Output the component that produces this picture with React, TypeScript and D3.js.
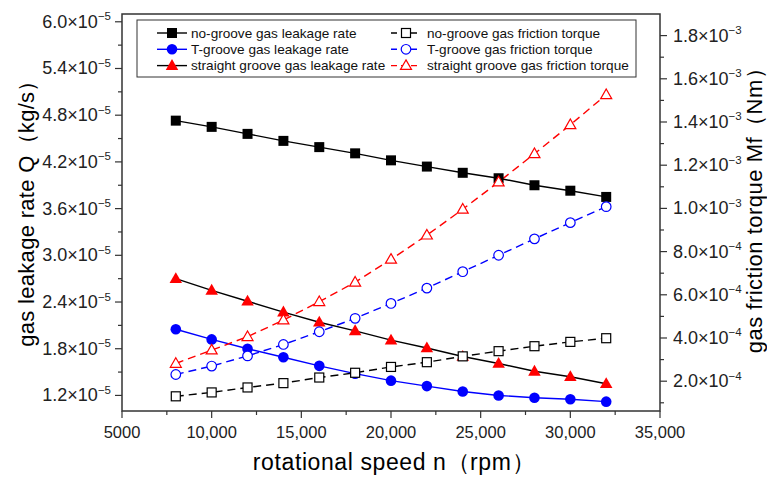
import React, { useEffect, useRef } from "react";
import * as d3 from "d3";

const speeds = [8000, 10000, 12000, 14000, 16000, 18000, 20000, 22000, 24000, 26000, 28000, 30000, 32000];

// leakage rate Q (kg/s), left axis
const noGrooveLeak = [4.73e-5, 4.65e-5, 4.56e-5, 4.47e-5, 4.39e-5, 4.31e-5, 4.22e-5, 4.14e-5, 4.06e-5, 3.99e-5, 3.9e-5, 3.83e-5, 3.75e-5];
const tGrooveLeak = [2.05e-5, 1.92e-5, 1.8e-5, 1.69e-5, 1.58e-5, 1.48e-5, 1.39e-5, 1.32e-5, 1.25e-5, 1.2e-5, 1.17e-5, 1.15e-5, 1.12e-5];
const straightLeak = [2.7e-5, 2.55e-5, 2.41e-5, 2.27e-5, 2.14e-5, 2.03e-5, 1.91e-5, 1.81e-5, 1.7e-5, 1.61e-5, 1.51e-5, 1.44e-5, 1.35e-5];

// friction torque Mf (Nm), right axis
const noGrooveTorque = [1.3e-4, 1.48e-4, 1.71e-4, 1.91e-4, 2.17e-4, 2.39e-4, 2.66e-4, 2.88e-4, 3.15e-4, 3.39e-4, 3.62e-4, 3.82e-4, 3.99e-4];
const tGrooveTorque = [2.31e-4, 2.7e-4, 3.17e-4, 3.7e-4, 4.29e-4, 4.91e-4, 5.6e-4, 6.31e-4, 7.07e-4, 7.83e-4, 8.59e-4, 9.34e-4, 1.008e-3];
const straightTorque = [2.82e-4, 3.44e-4, 4.06e-4, 4.83e-4, 5.68e-4, 6.58e-4, 7.64e-4, 8.76e-4, 9.96e-4, 1.122e-3, 1.253e-3, 1.387e-3, 1.526e-3];

const xTicks = [5000, 10000, 15000, 20000, 25000, 30000, 35000];
const leftTicks = [1.2e-5, 1.8e-5, 2.4e-5, 3.0e-5, 3.6e-5, 4.2e-5, 4.8e-5, 5.4e-5, 6.0e-5];
const rightTicks = [2e-4, 4e-4, 6e-4, 8e-4, 1.0e-3, 1.2e-3, 1.4e-3, 1.6e-3, 1.8e-3];

const series = [
  { name: "no-groove gas leakage rate", values: noGrooveLeak, axis: "left", shape: "square", color: "#000", line: "#000", open: false, dash: null },
  { name: "T-groove gas leakage rate", values: tGrooveLeak, axis: "left", shape: "circle", color: "#0000ff", line: "#0000ff", open: false, dash: null },
  { name: "straight groove gas leakage rate", values: straightLeak, axis: "left", shape: "triangle", color: "#ff0000", line: "#000", open: false, dash: null },
  { name: "no-groove gas friction torque", values: noGrooveTorque, axis: "right", shape: "square", color: "#000", line: "#000", open: true, dash: "8,5" },
  { name: "T-groove gas friction torque", values: tGrooveTorque, axis: "right", shape: "circle", color: "#0000ff", line: "#0000ff", open: true, dash: "8,5" },
  { name: "straight groove gas friction torque", values: straightTorque, axis: "right", shape: "triangle", color: "#ff0000", line: "#ff0000", open: true, dash: "8,5" }
];

const W = 767;
const H = 477;
const m = { left: 122, right: 660, top: 14, bottom: 411 };
const FONT = "'Liberation Sans', Arial, sans-serif";

function drawMarker(g, shape, x, y, color, open) {
  const fill = open ? "#fff" : color;
  const sw = open ? 1.2 : 0;
  if (shape === "square") {
    const s = open ? 9 : 10;
    g.append("rect").attr("x", x - s / 2).attr("y", y - s / 2).attr("width", s).attr("height", s)
      .attr("fill", fill).attr("stroke", color).attr("stroke-width", sw);
  } else if (shape === "circle") {
    g.append("circle").attr("cx", x).attr("cy", y).attr("r", open ? 4.8 : 5.3)
      .attr("fill", fill).attr("stroke", color).attr("stroke-width", sw);
  } else {
    const s = open ? 11 : 12.5;
    const h = s * 0.87;
    g.append("path")
      .attr("d", `M${x},${y - h * 0.6}L${x + s / 2},${y + h * 0.4}L${x - s / 2},${y + h * 0.4}Z`)
      .attr("fill", fill).attr("stroke", color).attr("stroke-width", sw);
  }
}

function sciLabel(sel, v, anchor) {
  const exp = Math.floor(Math.log10(v) + 1e-9);
  const mant = (v / Math.pow(10, exp)).toFixed(1);
  sel.attr("text-anchor", anchor);
  sel.append("tspan").text(`${mant}×10`);
  sel.append("tspan").attr("dy", -7.5).attr("font-size", 11.5).text(`−${-exp}`);
}

export default function App() {
  const svgRef = useRef(null);

  useEffect(() => {
    const svg = d3.select(svgRef.current);
    svg.selectAll("*").remove();

    const x = d3.scaleLinear().domain([5000, 35000]).range([m.left, m.right]);
    const yL = d3.scaleLinear().domain([1.0e-5, 6.1e-5]).range([m.bottom, m.top]);
    const yR = d3.scaleLinear().domain([0.62e-4, 1.9e-3]).range([m.bottom, m.top]);

    svg.append("rect").attr("width", W).attr("height", H).attr("fill", "#fff");

    // frame
    svg.append("rect")
      .attr("x", m.left).attr("y", m.top)
      .attr("width", m.right - m.left).attr("height", m.bottom - m.top)
      .attr("fill", "none").attr("stroke", "#333").attr("stroke-width", 1.5);

    // x axis ticks
    const axG = svg.append("g").attr("stroke", "#333").attr("stroke-width", 1.2);
    d3.range(5000, 35001, 2500).forEach((t, i) => {
      axG.append("line").attr("x1", x(t)).attr("x2", x(t))
        .attr("y1", m.bottom).attr("y2", m.bottom + (i % 2 === 0 ? 7 : 4));
    });
    svg.append("g").selectAll("text").data(xTicks).join("text")
      .attr("x", d => x(d)).attr("y", m.bottom + 27)
      .attr("text-anchor", "middle").attr("font-size", 16.5).attr("font-family", FONT)
      .attr("fill", "#222")
      .text(d => (d < 10000 ? String(d) : d3.format(",")(d)));

    // left axis ticks
    const lStep = 0.6e-5;
    d3.range(0, 19).forEach(i => {
      const v = 1.2e-5 + (i - 1) * lStep / 2;
      if (v < 1.0e-5 || v > 6.1e-5) return;
      axG.append("line").attr("x1", m.left).attr("x2", m.left - (i % 2 === 1 ? 7 : 4))
        .attr("y1", yL(v)).attr("y2", yL(v));
    });
    leftTicks.forEach(v => {
      const t = svg.append("text").attr("x", m.left - 11).attr("y", yL(v) + 6)
        .attr("font-size", 18).attr("font-family", FONT).attr("fill", "#222");
      sciLabel(t, v, "end");
    });

    // right axis ticks
    d3.range(0, 20).forEach(i => {
      const v = 1e-4 + i * 1e-4;
      if (v > 1.9e-3) return;
      axG.append("line").attr("x1", m.right).attr("x2", m.right + (i % 2 === 1 ? 7 : 4))
        .attr("y1", yR(v)).attr("y2", yR(v));
    });
    rightTicks.forEach(v => {
      const t = svg.append("text").attr("x", m.right + 13).attr("y", yR(v) + 6)
        .attr("font-size", 18).attr("font-family", FONT).attr("fill", "#222");
      sciLabel(t, v, "start");
    });

    // axis titles
    svg.append("text").attr("x", 394).attr("y", 470)
      .attr("text-anchor", "middle").attr("font-size", 23).attr("letter-spacing", 0.6)
      .attr("font-family", FONT)
      .text("rotational speed n（rpm）");
    svg.append("text").attr("transform", `translate(34,208) rotate(-90)`)
      .attr("text-anchor", "middle").attr("font-size", 22).attr("letter-spacing", 0.3)
      .attr("font-family", FONT)
      .text("gas leakage rate Q（kg/s）");
    svg.append("text").attr("transform", `translate(762,205) rotate(-90)`)
      .attr("text-anchor", "middle").attr("font-size", 22).attr("letter-spacing", 0.5)
      .attr("font-family", FONT)
      .text("gas friction torque Mf（Nm）");

    // lines
    series.forEach(s => {
      const y = s.axis === "left" ? yL : yR;
      const line = d3.line<number>().x((d, i) => x(speeds[i])).y(d => y(d));
      svg.append("path").datum(s.values).attr("d", line)
        .attr("fill", "none").attr("stroke", s.line).attr("stroke-width", 1.4)
        .attr("stroke-dasharray", s.dash);
    });
    // markers
    series.forEach(s => {
      const y = s.axis === "left" ? yL : yR;
      const g = svg.append("g");
      s.values.forEach((v, i) => drawMarker(g, s.shape, x(speeds[i]), y(v), s.color, s.open));
    });

    // legend
    const lg = svg.append("g");
    lg.append("rect").attr("x", 137).attr("y", 20).attr("width", 499).attr("height", 57)
      .attr("fill", "#fff").attr("stroke", "#333").attr("stroke-width", 1);
    series.forEach((s, i) => {
      const col = i < 3 ? 0 : 1;
      const row = i % 3;
      const x0 = col === 0 ? 157 : 391;
      const yy = 33 + row * 16.3;
      lg.append("line").attr("x1", x0).attr("x2", x0 + 30).attr("y1", yy).attr("y2", yy)
        .attr("stroke", s.line).attr("stroke-width", 1.4)
        .attr("stroke-dasharray", s.dash ? "6,4" : null);
      drawMarker(lg, s.shape, x0 + 15, yy, s.color, s.open);
      lg.append("text").attr("x", x0 + (col === 0 ? 34 : 36)).attr("y", yy + 4.5)
        .attr("font-size", 13.6).attr("font-family", FONT).attr("fill", "#111")
        .text(s.name);
    });
  }, []);

  return (
    <svg
      ref={svgRef}
      width={W}
      height={H}
      style={{ position: "absolute", left: 0, top: 0, display: "block" }}
    />
  );
}
